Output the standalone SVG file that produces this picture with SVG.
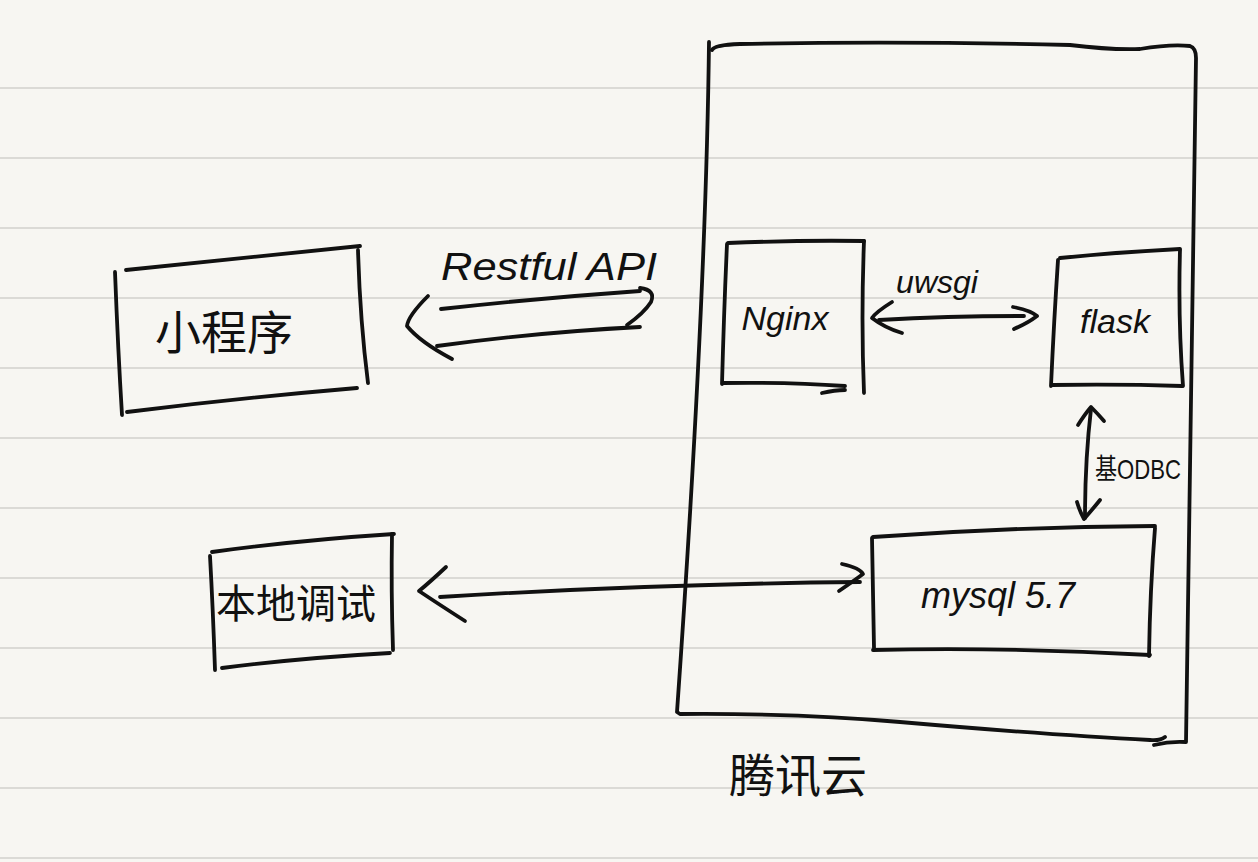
<svg xmlns="http://www.w3.org/2000/svg" width="1258" height="862" viewBox="0 0 1258 862">
<style>
.bg{fill:#f7f6f2}
.rule{stroke:#d2d1cc;stroke-width:1.5}
.ink{fill:none;stroke:#111;stroke-width:3.8;stroke-linecap:round;stroke-linejoin:round}
.t{fill:#111;font-family:"Liberation Sans","Noto Sans CJK SC",sans-serif;font-style:italic}
.cjk{fill:#111;font-family:"Noto Sans CJK SC",sans-serif}
</style>
<rect class="bg" x="0" y="0" width="1258" height="862"/>
<g id="rules">
<line class="rule" x1="0" y1="88" x2="1258" y2="88"/>
<line class="rule" x1="0" y1="158" x2="1258" y2="158"/>
<line class="rule" x1="0" y1="228" x2="1258" y2="228"/>
<line class="rule" x1="0" y1="298" x2="1258" y2="298"/>
<line class="rule" x1="0" y1="368" x2="1258" y2="368"/>
<line class="rule" x1="0" y1="438" x2="1258" y2="438"/>
<line class="rule" x1="0" y1="508" x2="1258" y2="508"/>
<line class="rule" x1="0" y1="578" x2="1258" y2="578"/>
<line class="rule" x1="0" y1="648" x2="1258" y2="648"/>
<line class="rule" x1="0" y1="718" x2="1258" y2="718"/>
<line class="rule" x1="0" y1="788" x2="1258" y2="788"/>
<line class="rule" x1="0" y1="858" x2="1258" y2="858"/>
</g>
<g id="cloud">
<path class="ink" d="M709,42 Q706,300 677,712 L680,714 Q800,713 900,722 Q1050,735 1150,740 Q1160,741 1165,737"/>
<path class="ink" d="M712,50 Q714,45 740,44 Q900,41 1070,45 Q1110,50 1140,49 Q1170,44 1190,46 Q1196,48 1196,58 Q1192,400 1186,742 Q1170,741 1154,745"/>
<text class="cjk" x="798" y="792" font-size="46" text-anchor="middle">腾讯云</text>
</g>
<g id="miniprogram">
<path class="ink" d="M115,272 Q118,350 122,415"/>
<path class="ink" d="M126,270 Q240,258 360,246"/>
<path class="ink" d="M358,250 Q360,320 368,383"/>
<path class="ink" d="M127,412 Q240,398 357,388"/>
<text class="cjk" x="224" y="349" font-size="46" text-anchor="middle">小程序</text>
</g>
<g id="local">
<path class="ink" d="M210,556 Q213,610 215,670"/>
<path class="ink" d="M212,552 Q300,540 394,534"/>
<path class="ink" d="M392,534 Q391,590 393,650"/>
<path class="ink" d="M222,668 Q300,658 390,653"/>
<text class="cjk" x="296" y="618" font-size="40" text-anchor="middle">本地调试</text>
</g>
<g id="nginx">
<path class="ink" d="M727,244 Q724,310 722,384"/>
<path class="ink" d="M728,243 Q800,240 864,241"/>
<path class="ink" d="M864,241 Q861,320 864,393"/>
<path class="ink" d="M723,383 Q790,382 845,386"/>
<path class="ink" d="M822,393 Q835,390 845,390"/>
<text class="t" x="785" y="330" font-size="34" text-anchor="middle">Nginx</text>
</g>
<g id="flask">
<path class="ink" d="M1058,260 Q1054,320 1051,386"/>
<path class="ink" d="M1060,258 Q1120,252 1180,249"/>
<path class="ink" d="M1180,250 Q1178,320 1183,386"/>
<path class="ink" d="M1052,385 Q1120,384 1182,386"/>
<text class="t" x="1115" y="333" font-size="34" text-anchor="middle">flask</text>
</g>
<g id="mysql">
<path class="ink" d="M872,538 Q873,590 874,648"/>
<path class="ink" d="M873,537 Q1010,527 1155,526"/>
<path class="ink" d="M1155,528 Q1150,590 1149,656"/>
<path class="ink" d="M873,650 Q1010,647 1150,655"/>
<text class="t" x="998" y="608" font-size="36" text-anchor="middle">mysql 5.7</text>
</g>
<g id="connectors">
<path class="ink" d="M441,309 Q540,298 640,291"/>
<path class="ink" d="M640,288 Q656,290 651,302 Q644,313 627,325"/>
<path class="ink" d="M437,346 Q540,332 640,327"/>
<path class="ink" d="M428,296 Q408,316 407,326 Q420,342 452,359"/>
<text class="t" x="441" y="280" font-size="38" textLength="216" lengthAdjust="spacingAndGlyphs">Restful API</text>
<path class="ink" d="M879,320 Q950,316 1024,316"/>
<path class="ink" d="M892,302 Q876,312 872,318 Q885,328 902,333"/>
<path class="ink" d="M1013,307 Q1030,310 1037,316 Q1028,323 1014,329"/>
<text class="t" x="937" y="293" font-size="32" text-anchor="middle">uwsgi</text>
<path class="ink" d="M1091,409 Q1085,460 1085,518"/>
<path class="ink" d="M1078,425 Q1085,414 1091,407 Q1098,414 1104,421"/>
<path class="ink" d="M1077,502 Q1080,512 1084,519 Q1092,510 1100,500"/>
<text x="1095" y="479" font-size="28" fill="#111" font-family="Liberation Sans,Noto Sans CJK SC,sans-serif" textLength="86" lengthAdjust="spacingAndGlyphs">基ODBC</text>
<path class="ink" d="M440,597 Q650,584 860,582"/>
<path class="ink" d="M446,567 Q430,582 419,591 Q440,605 465,621"/>
<path class="ink" d="M842,564 Q860,568 863,574 Q855,580 839,591"/>
</g>
</svg>
